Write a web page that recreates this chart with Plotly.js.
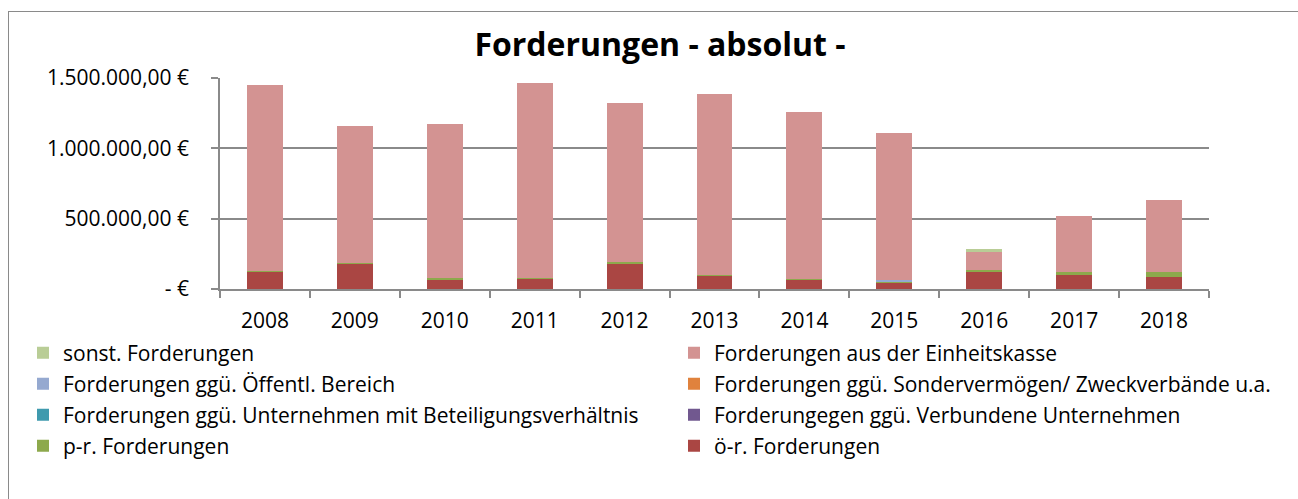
<!DOCTYPE html>
<html>
<head>
<meta charset="utf-8">
<script src="https://cdn.plot.ly/plotly-3.0.1.min.js"></script>
<style>
  html, body { margin: 0; padding: 0; background: #ffffff; }
  #wrap { position: relative; width: 1298px; height: 499px; overflow: hidden; }
  #chart { width: 1298px; height: 499px; }
  #frame { position: absolute; left: 8px; top: 11px; width: 1300px; height: 600px;
           border: 1.5px solid #8a8a8a; pointer-events: none; }
</style>
</head>
<body>
<div id="wrap"><div id="chart"></div><div id="frame"></div></div>
<script>
// ---- data ----
const years = ['2008', '2009', '2010', '2011', '2012', '2013', '2014', '2015', '2016', '2017', '2018'];
const oeR = [127000, 178000, 70000, 75000, 183000, 96000, 70000, 47000, 123000, 104000, 88000];
const pR = [2000, 4000, 5000, 3000, 7000, 2000, 4000, 4000, 14000, 14000, 30000];
const verbundene = [0, 0, 0, 0, 0, 0, 0, 0, 0, 0, 0];
const beteiligung = [0, 0, 0, 0, 0, 0, 0, 0, 0, 0, 0];
const sondervermoegen = [0, 0, 0, 0, 0, 0, 0, 0, 0, 0, 0];
const oeffentl = [0, 0, 0, 0, 0, 0, 0, 15000, 0, 0, 0];
const einheitskasse = [1321000, 977000, 1100000, 1389000, 1132000, 1286000, 1187000, 1043000, 132000, 401000, 517000];
const sonst = [0, 0, 0, 0, 0, 0, 0, 0, 14000, 0, 0];

const yTickVals = [0, 500000, 1000000, 1500000];
const yTickText = ['-\u00a0€', '500.000,00 €', '1.000.000,00 €', '1.500.000,00 €'];

const seriesNames = [
  'ö-r. Forderungen',
  'p-r. Forderungen',
  'Forderungegen ggü. Verbundene Unternehmen',
  'Forderungen ggü. Unternehmen mit Beteiligungsverhältnis',
  'Forderungen ggü. Sondervermögen/ Zweckverbände u.a.',
  'Forderungen ggü. Öffentl. Bereich',
  'Forderungen aus der Einheitskasse',
  'sonst. Forderungen'
];
const seriesValues = [oeR, pR, verbundene, beteiligung, sondervermoegen, oeffentl, einheitskasse, sonst];
const seriesColors = ['#AA4643', '#8DA94C', '#71588F', '#3F9AAE', '#E0823D', '#95A9D0', '#D39392', '#B9CD96'];

const FONT = 'Open Sans, Liberation Sans, Arial, sans-serif';

// plot area in px
const L = 220, R = 1209, T = 78, B = 289;
const W = 1298, H = 499;
function px2x(px) { return (px - L) / (R - L); }
function py2y(py) { return (B - py) / (B - T); }

// legend grid: 2 columns x 4 rows, read left-to-right from the top (stack order reversed)
const legendRowsPx = [353, 384, 415, 446];
const legendColsPx = [23, 674];
const legendIds = ['legend', 'legend2', 'legend3', 'legend4', 'legend5', 'legend6', 'legend7', 'legend8'];

const traces = seriesNames.map((name, i) => ({
  type: 'bar',
  name: name,
  x: years,
  y: seriesValues[i],
  legend: legendIds[seriesNames.length - 1 - i],
  marker: { color: seriesColors[i], line: { width: 0 } },
  hoverinfo: 'x+y+name'
}));

const layout = {
  width: W, height: H,
  margin: { l: L, r: W - R, t: T, b: H - B, pad: 0 },
  paper_bgcolor: 'rgba(0,0,0,0)',
  plot_bgcolor: '#ffffff',
  barmode: 'stack',
  bargap: 0.6,
  title: {
    text: '<b>Forderungen - absolut -</b>',
    font: { family: FONT, size: 32, color: '#000000' },
    x: 660 / W, xanchor: 'center', xref: 'container',
    y: 1 - 45 / H, yanchor: 'middle', yref: 'container'
  },
  xaxis: {
    type: 'category',
    showline: true, linecolor: '#8a8a8a', linewidth: 1.5,
    ticks: 'outside', tickson: 'boundaries', ticklen: 7, tickcolor: '#8a8a8a', tickwidth: 1.5,
    tickfont: { family: FONT, size: 21, color: '#000000' },
    ticklabelstandoff: 12,
    showgrid: false, zeroline: false, fixedrange: true
  },
  yaxis: {
    range: [0, 1500000],
    tickvals: yTickVals, ticktext: yTickText,
    showline: true, linecolor: '#8a8a8a', linewidth: 1.5,
    ticks: 'outside', ticklen: 7, tickcolor: '#8a8a8a', tickwidth: 1.5,
    showgrid: true, gridcolor: '#8a8a8a', gridwidth: 1.5,
    zeroline: false,
    tickfont: { family: FONT, size: 21, color: '#000000' },
    ticklabelstandoff: 18,
    fixedrange: true
  },
  showlegend: true
};

legendIds.forEach((id, k) => {
  const row = Math.floor(k / 2), col = k % 2;
  layout[id] = {
    orientation: 'v',
    x: px2x(legendColsPx[col]), xanchor: 'left',
    y: py2y(legendRowsPx[row]), yanchor: 'middle',
    bgcolor: 'rgba(0,0,0,0)',
    font: { family: FONT, size: 21, color: '#000000' },
    itemclick: false, itemdoubleclick: false
  };
});

Plotly.newPlot('chart', traces, layout, { displayModeBar: false });
</script>
</body>
</html>
